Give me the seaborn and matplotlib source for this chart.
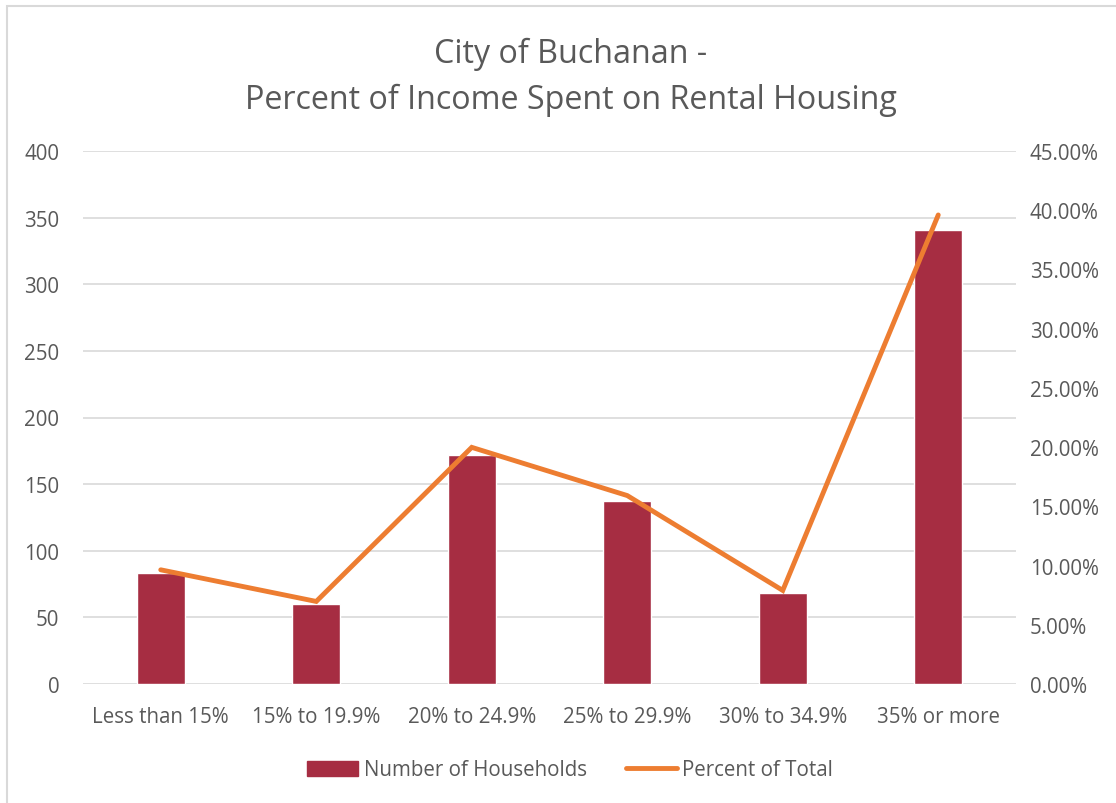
import matplotlib
matplotlib.use('Agg')
import matplotlib.pyplot as plt
import seaborn as sns
import pandas as pd
from matplotlib.patches import Rectangle
from matplotlib.lines import Line2D
from matplotlib.ticker import FuncFormatter

# ── Data ─────────────────────────────────────────────────────────────────────
categories = ['Less than 15%', '15% to 19.9%', '20% to 24.9%',
              '25% to 29.9%', '30% to 34.9%', '35% or more']
households = [83, 60, 172, 137, 68, 341]
pct_total  = [0.0964, 0.0697, 0.1998, 0.1591, 0.0790, 0.3960]

BAR_COLOR  = '#A62D42'
LINE_COLOR = '#ED7D31'
TEXT_COLOR = '#595959'
GRID_COLOR = '#D9D9D9'

df = pd.DataFrame({'category': categories,
                   'households': households,
                   'pct': pct_total})

sns.set_theme(style='white')
plt.rcParams['font.family'] = ['Open Sans', 'DejaVu Sans']

FS = 14.8

fig = plt.figure(figsize=(11.16, 8.04), dpi=100)
ax = fig.add_axes([83 / 1116, 119 / 804, 933 / 1116, 533 / 804])

# ── Bars (left axis) ─────────────────────────────────────────────────────────
sns.barplot(data=df, x='category', y='households', color=BAR_COLOR,
            width=0.31, saturation=1, ax=ax, zorder=2)
ax.set_ylim(0, 400)
ax.set_yticks(range(0, 401, 50))
ax.set_xlim(-0.5, len(categories) - 0.5)
ax.set_xlabel('')
ax.set_ylabel('')
ax.yaxis.grid(True, color=GRID_COLOR, lw=1.2, zorder=0)
ax.set_axisbelow(True)
for s in ax.spines.values():
    s.set_visible(False)
ax.tick_params(axis='y', length=0, pad=17, labelsize=FS, labelcolor=TEXT_COLOR)
ax.tick_params(axis='x', length=0, pad=15.5, labelsize=FS, labelcolor=TEXT_COLOR)

# ── Line (right axis) ────────────────────────────────────────────────────────
ax2 = ax.twinx()
sns.lineplot(data=df, x='category', y='pct', sort=False, color=LINE_COLOR,
             lw=3.5, ax=ax2, solid_capstyle='round', solid_joinstyle='miter')
ax2.set_ylim(0, 0.45)
ax2.set_yticks([i * 0.05 for i in range(10)])
ax2.yaxis.set_major_formatter(FuncFormatter(lambda v, _: f'{v:.2%}'))
ax2.set_ylabel('')
for s in ax2.spines.values():
    s.set_visible(False)
ax2.tick_params(axis='y', length=0, pad=10, labelsize=FS, labelcolor=TEXT_COLOR)
ax2.grid(False)

# ── Title & legend ───────────────────────────────────────────────────────────
fig.text(571 / 1116, 1 - 77 / 804, 'City of Buchanan -\nPercent of Income Spent on Rental Housing',
         ha='center', va='center', fontsize=23.2, color=TEXT_COLOR, linespacing=1.5)

handles = [Rectangle((0, 0), 1, 1, color=BAR_COLOR),
           Line2D([0], [0], color=LINE_COLOR, lw=3.5, solid_capstyle='round')]
fig.legend(handles, ['Number of Households', 'Percent of Total'],
           loc='center', bbox_to_anchor=(570 / 1116, 1 - 771 / 804), ncol=2,
           frameon=False, fontsize=FS, labelcolor=TEXT_COLOR,
           handlelength=2.5, handleheight=0.75, handletextpad=0.25, columnspacing=1.9)

# ── Chart frame ──────────────────────────────────────────────────────────────
fig.patches.append(Rectangle((7 / 1116, -0.05), 1.2, 1.05 - 7 / 804,
                             transform=fig.transFigure, fill=False,
                             edgecolor=GRID_COLOR, lw=1.5))

fig.savefig('out.png', dpi=100)
